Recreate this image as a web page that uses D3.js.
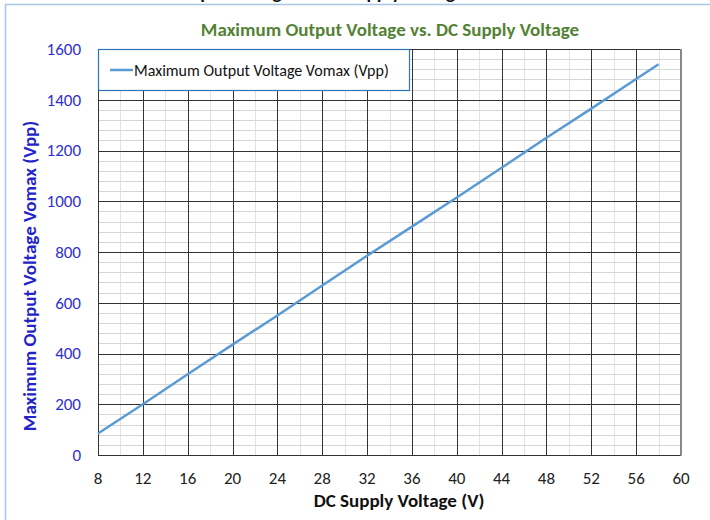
<!DOCTYPE html>
<html lang="en">
<head>
    <meta charset="UTF-8">
    <title>Maximum Output Voltage vs. DC Supply Voltage</title>
    <script src="https://d3js.org/d3.v7.min.js"></script>
    <style>
        body { margin: 0; background: #fff; }
        svg { display: block; font-family: Carlito, Calibri, Lato, sans-serif; }
    </style>
</head>
<body>
    <div id="chart"></div>
    <script>
        // values
        const supplyV = [8, 12, 16, 20, 24, 28, 32, 36, 40, 44, 48, 52, 56, 58];
        const vomax = [85, 200, 318, 435, 550, 668, 785, 900, 1015, 1132, 1250, 1365, 1482, 1540];
        const xTicks = [8, 12, 16, 20, 24, 28, 32, 36, 40, 44, 48, 52, 56, 60];
        const yTicks = [0, 200, 400, 600, 800, 1000, 1200, 1400, 1600];
        const seriesName = "Maximum Output Voltage Vomax (Vpp)";

        const data = supplyV.map((v, i) => ({ x: v, y: vomax[i] }));

        const width = 710, height = 520;
        const plot = { left: 98, right: 681, top: 49, bottom: 455 };

        const svg = d3.select("#chart").append("svg")
            .attr("width", width)
            .attr("height", height);

        const x = d3.scaleLinear().domain([8, 60]).range([plot.left, plot.right]);
        const y = d3.scaleLinear().domain([0, 1600]).range([plot.bottom, plot.top]);

        // cut-off heading of the page above the chart
        svg.append("text")
            .attr("x", 86).attr("y", -1)
            .attr("font-size", 19).attr("font-weight", "bold")
            .attr("fill", "#111")
            .text("Maximum Output Voltage vs. DC Supply Voltage");

        // chart frame
        svg.append("path")
            .attr("d", `M5.5,${height} V4.5 H${width}`)
            .attr("fill", "none")
            .attr("stroke", "#a9c6e3")
            .attr("stroke-width", 1.5);

        // minor grid
        const minorX = d3.range(8, 61, 2).filter(v => v % 4 !== 0);
        const minorY = d3.range(0, 1601, 40).filter(v => v % 200 !== 0);
        svg.append("g").selectAll("line").data(minorX).join("line")
            .attr("x1", d => Math.round(x(d)) + 0.5).attr("x2", d => Math.round(x(d)) + 0.5)
            .attr("y1", plot.top).attr("y2", plot.bottom)
            .attr("stroke", "#e2e2e2");
        svg.append("g").selectAll("line").data(minorY).join("line")
            .attr("x1", plot.left).attr("x2", plot.right)
            .attr("y1", d => Math.round(y(d)) + 0.5).attr("y2", d => Math.round(y(d)) + 0.5)
            .attr("stroke", "#d6d6d6");

        // major grid
        svg.append("g").selectAll("line").data(xTicks.slice(1, -1)).join("line")
            .attr("x1", d => Math.round(x(d)) + 0.5).attr("x2", d => Math.round(x(d)) + 0.5)
            .attr("y1", plot.top).attr("y2", plot.bottom)
            .attr("stroke", "#333");
        svg.append("g").selectAll("line").data(yTicks).join("line")
            .attr("x1", plot.left).attr("x2", plot.right)
            .attr("y1", d => Math.round(y(d)) + 0.5).attr("y2", d => Math.round(y(d)) + 0.5)
            .attr("stroke", "#333");

        // plot edges
        svg.append("line")
            .attr("x1", plot.left + 0.5).attr("x2", plot.left + 0.5)
            .attr("y1", plot.top).attr("y2", plot.bottom)
            .attr("stroke", "#333");
        svg.append("line")
            .attr("x1", plot.right).attr("x2", plot.right)
            .attr("y1", plot.top).attr("y2", plot.bottom + 0.5)
            .attr("stroke", "#888").attr("stroke-width", 2);

        // tick labels
        svg.append("g").selectAll("text").data(yTicks).join("text")
            .attr("x", 81).attr("y", d => y(d))
            .attr("dy", "0.35em")
            .attr("text-anchor", "end")
            .attr("font-size", 17)
            .attr("fill", "#2f2fcf")
            .text(d => d);
        svg.append("g").selectAll("text").data(xTicks).join("text")
            .attr("x", d => x(d)).attr("y", 478)
            .attr("dy", "0.35em")
            .attr("text-anchor", "middle")
            .attr("font-size", 17)
            .attr("fill", "#222")
            .text(d => d);

        // titles
        svg.append("text")
            .attr("x", 390).attr("y", 36)
            .attr("text-anchor", "middle")
            .attr("font-size", 19).attr("font-weight", "bold")
            .attr("fill", "#548235")
            .text("Maximum Output Voltage vs. DC Supply Voltage");
        svg.append("text")
            .attr("x", 399).attr("y", 507)
            .attr("text-anchor", "middle")
            .attr("font-size", 19).attr("font-weight", "bold")
            .attr("fill", "#111")
            .text("DC Supply Voltage (V)");
        svg.append("text")
            .attr("transform", "translate(36,276) rotate(-90)")
            .attr("text-anchor", "middle")
            .attr("font-size", 19).attr("font-weight", "bold")
            .attr("fill", "#2323c8")
            .text("Maximum Output Voltage Vomax (Vpp)");

        // series
        const line = d3.line().x(d => x(d.x)).y(d => y(d.y));
        svg.append("path")
            .datum(data)
            .attr("d", line)
            .attr("fill", "none")
            .attr("stroke", "#5b9bd5")
            .attr("stroke-width", 2.5);

        // legend
        const legend = svg.append("g");
        legend.append("rect")
            .attr("x", plot.left + 0.5).attr("y", plot.top + 0.5)
            .attr("width", 311).attr("height", 41)
            .attr("fill", "#fff")
            .attr("stroke", "#2e75b6").attr("stroke-width", 1.2);
        legend.append("line")
            .attr("x1", 110).attr("x2", 133)
            .attr("y1", 70).attr("y2", 70)
            .attr("stroke", "#5b9bd5").attr("stroke-width", 2.5);
        legend.append("text")
            .attr("x", 134).attr("y", 70)
            .attr("dy", "0.35em")
            .attr("font-size", 16)
            .attr("fill", "#111")
            .text(seriesName);
    </script>
</body>
</html>
